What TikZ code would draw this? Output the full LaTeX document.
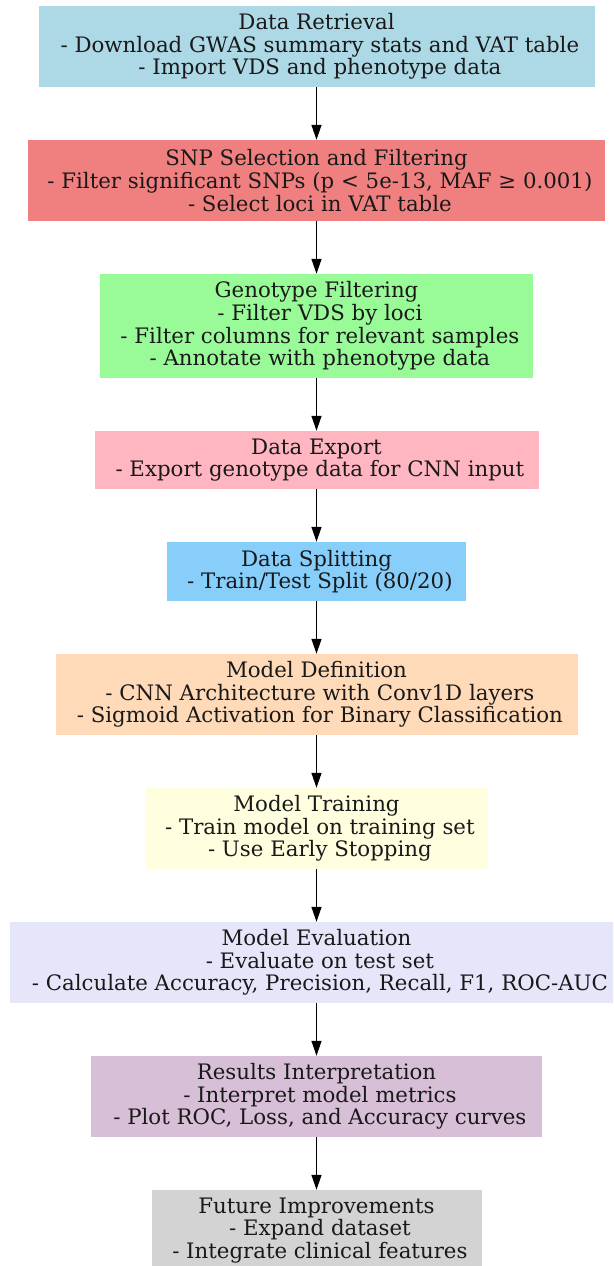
\documentclass[tikz,border=0pt]{standalone}
\usepackage{fontspec}
\setmainfont{DejaVu Serif}
\usetikzlibrary{arrows.meta}
\definecolor{cRetr}{HTML}{ADD8E6}
\definecolor{cSnp}{HTML}{F08080}
\definecolor{cGeno}{HTML}{98FB98}
\definecolor{cExp}{HTML}{FFB6C1}
\definecolor{cSplit}{HTML}{87CEFA}
\definecolor{cDef}{HTML}{FFDAB9}
\definecolor{cTrain}{HTML}{FFFFE0}
\definecolor{cEval}{HTML}{E6E6FA}
\definecolor{cRes}{HTML}{D8BFD8}
\definecolor{cFut}{HTML}{D3D3D3}
\newcommand\lsp{\mbox{\ }}
\begin{document}
\begin{tikzpicture}[x=1pt,y=-1pt,
  box/.style={fill=#1, draw=none, inner sep=0pt, align=center,
    font=\fontsize{21.3}{22.6}\selectfont, text=black!90},
  flow/.style={-{Triangle[length=15pt,width=10pt]}, line width=1.3pt, draw=black}]
\useasboundingbox (0,0) rectangle (613,1266);
\clip (0,0) rectangle (613,1266);
\fill[white] (0,0) rectangle (613,1266);
\node[box=cRetr, minimum width=556pt, minimum height=81pt] (n1) at (316.5,46.5)
  {Data Retrieval\\\lsp- Download GWAS summary stats and VAT table\\\lsp- Import VDS and phenotype data};
\node[box=cSnp, minimum width=577pt, minimum height=81pt] (n2) at (316.5,180.5)
  {SNP Selection and Filtering\\\lsp- Filter significant SNPs (p < 5e-13, MAF ≥ 0.001)\\\lsp- Select loci in VAT table};
\node[box=cGeno, minimum width=433pt, minimum height=104pt] (n3) at (316.5,326)
  {Genotype Filtering\\\lsp- Filter VDS by loci\\\lsp- Filter columns for relevant samples\\\lsp- Annotate with phenotype data};
\node[box=cExp, minimum width=444pt, minimum height=58pt] (n4) at (316.5,460)
  {Data Export\\\lsp- Export genotype data for CNN input};
\node[box=cSplit, minimum width=299pt, minimum height=59pt] (n5) at (316.5,571.5)
  {Data Splitting\\\lsp- Train/Test Split (80/20)};
\node[box=cDef, minimum width=522pt, minimum height=81pt] (n6) at (316.5,694.5)
  {Model Definition\\\lsp- CNN Architecture with Conv1D layers\\\lsp- Sigmoid Activation for Binary Classification};
\node[box=cTrain, minimum width=342pt, minimum height=81pt] (n7) at (316.5,828.5)
  {Model Training\\\lsp- Train model on training set\\\lsp- Use Early Stopping};
\node[box=cEval, minimum width=614pt, minimum height=81pt] (n8) at (316.5,962.5)
  {Model Evaluation\\\lsp- Evaluate on test set\\\lsp- Calculate Accuracy, Precision, Recall, F1, ROC-AUC};
\node[box=cRes, minimum width=451pt, minimum height=81pt] (n9) at (316.5,1096.5)
  {Results Interpretation\\\lsp- Interpret model metrics\\\lsp- Plot ROC, Loss, and Accuracy curves};
\node[box=cFut, minimum width=330pt, minimum height=81pt] (n10) at (316.5,1230.5)
  {Future Improvements\\\lsp- Expand dataset\\\lsp- Integrate clinical features};
\draw[flow] (n1) -- (n2);
\draw[flow] (n2) -- (n3);
\draw[flow] (n3) -- (n4);
\draw[flow] (n4) -- (n5);
\draw[flow] (n5) -- (n6);
\draw[flow] (n6) -- (n7);
\draw[flow] (n7) -- (n8);
\draw[flow] (n8) -- (n9);
\draw[flow] (n9) -- (n10);
\end{tikzpicture}
\end{document}
